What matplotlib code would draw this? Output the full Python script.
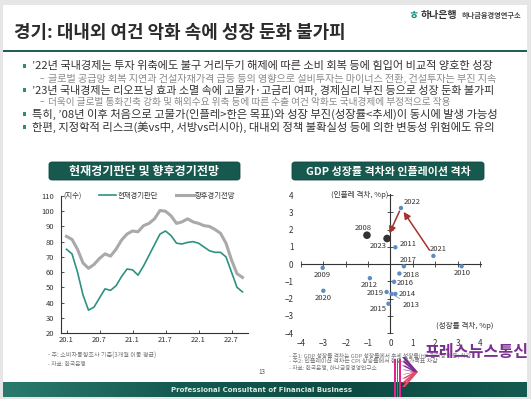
import matplotlib
matplotlib.use("Agg")
import matplotlib.pyplot as plt
from matplotlib.patches import Rectangle, FancyBboxPatch, Polygon
from matplotlib.colors import LinearSegmentedColormap
import numpy as np

plt.rcParams['font.family'] = ['Noto Sans CJK KR', 'DejaVu Sans']
plt.rcParams['axes.unicode_minus'] = True

W, H = 531, 399

# ---------------- data ----------------
months = ["20.1","20.2","20.3","20.4","20.5","20.6","20.7","20.8","20.9","20.10","20.11","20.12",
          "21.1","21.2","21.3","21.4","21.5","21.6","21.7","21.8","21.9","21.10","21.11","21.12",
          "22.1","22.2","22.3","22.4","22.5","22.6","22.7","22.8","22.9"]
current_csi = [75, 72, 60, 45, 35, 37, 43, 49, 48, 51, 57, 62,
               61.5, 58, 64, 71, 78, 85, 87, 84, 79, 78.5, 79.5, 80,
               79, 76.5, 74, 73, 73, 70, 60, 50, 47]
outlook_csi = [83.5, 81.5, 75, 66, 62.5, 65, 69, 72, 70.5, 75, 81, 85,
               87, 86.5, 90.5, 92, 95, 100.5, 100, 97, 92, 93, 95, 93,
               92, 90.5, 90, 88, 85.5, 79, 68, 59, 56.5]
left_xtick_labels = ["20.1", "20.7", "21.1", "21.7", "22.1", "22.7"]
left_yticks = [20, 30, 40, 50, 60, 70, 80, 90, 100, 110]

years = ["2008", "2009", "2010", "2011", "2012", "2013", "2014", "2015",
         "2016", "2017", "2018", "2019", "2020", "2021", "2022", "2023"]
growth_gap = [-1.05, -3.03, 3.18, 0.22, -0.92, 0.05, 0.22, -0.09,
              0.16, 0.6, 0.4, -0.17, -3.0, 1.92, 0.47, -0.15]
inflation_gap = [1.67, -0.22, -0.13, 0.97, -0.82, -1.73, -1.73, -2.3,
                 -1.03, -0.13, -0.55, -1.62, -1.55, 0.47, 3.25, 1.48]
highlight_years = ["2008", "2023"]
right_ticks = [-4, -3, -2, -1, 0, 1, 2, 3, 4]

# ---------------- figure ----------------
fig = plt.figure(figsize=(W / 100, H / 100), dpi=100)
fig.patch.set_facecolor("#e6e6e6")

def fx(x):
    return x / W

def fy(y):
    return 1 - y / H

# slide background
fig.patches.append(Rectangle((fx(3), fy(396)), fx(524), (396 - 5) / H,
                             transform=fig.transFigure, facecolor="white",
                             edgecolor="none", zorder=-5))
# header rule
fig.patches.append(Rectangle((fx(3), fy(52)), fx(524), 2.2 / H,
                             transform=fig.transFigure, facecolor="#1f5f57",
                             edgecolor="none", zorder=1))

fitted = []  # (text, target width px)

def ftext(x, y, s, target=None, **kw):
    t = fig.text(fx(x), fy(y), s, **kw)
    if target is not None:
        fitted.append((t, target))
    return t

# title
ftext(14, 33, "경기: 대내외 여건 악화 속에 성장 둔화 불가피", target=331,
      fontsize=14, fontweight="bold", color="#2b2b2b", va="center", ha="left")

# logo
ftext(421, 15, "하나은행", target=37, fontsize=7, fontweight="bold",
      color="#333333", va="center", ha="left")
ftext(462, 15.5, "하나금융경영연구소", target=60, fontsize=4.5, fontweight="bold",
      color="#444444", va="center", ha="left")
ftext(413, 15, "ㅎ", fontsize=8, fontweight="bold", color="#0d8c7c",
      va="center", ha="center")

# bullets
teal = "#2f8a7c"
bullets = [
    (66, "’22년 국내경제는 투자 위축에도 불구 거리두기 해제에 따른 소비 회복 등에 힘입어 비교적 양호한 성장", 465, True),
    (78.5, "글로벌 공급망 회복 지연과 건설자재가격 급등 등의 영향으로 설비투자는 마이너스 전환, 건설투자는 부진 지속", 449, False),
    (90, "’23년 국내경제는 리오프닝 효과 소멸 속에 고물가·고금리 여파, 경제심리 부진 등으로 성장 둔화 불가피", 466, True),
    (102, "더욱이 글로벌 통화긴축 강화 및 해외수요 위축 등에 따른 수출 여건 악화도 국내경제에 부정적으로 작용", 402, False),
    (114, "특히, ’08년 이후 처음으로 고물가(인플레>한은 목표)와 성장 부진(성장률<추세)이 동시에 발생 가능성", 470, True),
    (127, "한편, 지정학적 리스크(美vs中, 서방vs러시아), 대내외 정책 불확실성 등에 의한 변동성 위험에도 유의", 467, True),
]
for y, s, wdt, main in bullets:
    if main:
        fig.patches.append(Rectangle((fx(22.5), fy(y + 2)), 3.5 / W, 3.5 / H,
                                     transform=fig.transFigure,
                                     facecolor=teal, edgecolor="none"))
        ftext(32, y, s, target=wdt, fontsize=7, color="#333333",
              va="center", ha="left")
    else:
        ftext(40, y, "–", fontsize=6, color="#888888", va="center", ha="left")
        ftext(48, y, s, target=wdt, fontsize=6, color="#8a8a8a",
              va="center", ha="left")

# chart title boxes
def title_box(x0, x1, y0, y1, s, target):
    box = FancyBboxPatch((fx(x0), fy(y1)), fx(x1 - x0), (y1 - y0) / H,
                         boxstyle="round,pad=0,rounding_size=0.006",
                         transform=fig.transFigure, facecolor="#17594f",
                         edgecolor="#0f463e", linewidth=0.6, zorder=2)
    fig.patches.append(box)
    ftext((x0 + x1) / 2, (y0 + y1) / 2 + 0.5, s, target=target, fontsize=8,
          fontweight="bold", color="white", ha="center", va="center", zorder=3)

title_box(49, 240, 162, 180, "현재경기판단 및 향후경기전망", 150)
title_box(292, 484, 162, 180, "GDP 성장률 격차와 인플레이션 격차", 164)

# ---------------- left chart ----------------
axL = fig.add_axes([fx(61), fy(333), fx(187), 137 / H])
axL.set_zorder(2)
axL.set_facecolor("none")
x = np.arange(len(months))
axL.plot(x, outlook_csi, color="#a9a9a9", lw=2.2, label="향후경기전망", zorder=2)
axL.plot(x, current_csi, color="#2d9182", lw=1.2, label="현재경기판단", zorder=3)
axL.set_xlim(-1.0, 33.0)
axL.set_ylim(20, 110)
axL.set_yticks(left_yticks)
axL.set_yticklabels([str(v) for v in left_yticks])
axL.set_xticks([months.index(m) for m in left_xtick_labels])
axL.set_xticklabels(left_xtick_labels)
for s in ["top", "right"]:
    axL.spines[s].set_visible(False)
for s in ["left", "bottom"]:
    axL.spines[s].set_color("#333333")
    axL.spines[s].set_linewidth(0.8)
axL.tick_params(axis="y", direction="in", length=2, width=0.6, labelsize=5.5,
                pad=5, colors="#333333")
axL.tick_params(axis="x", direction="in", length=2, width=0.6, labelsize=5.5,
                pad=2, colors="#333333")
axL.text(0.012, 1.0, "(지수)", transform=axL.transAxes, fontsize=5.3,
         color="#333333", va="center", ha="left")
h, l = axL.get_legend_handles_labels()
leg = axL.legend(h[::-1], l[::-1], loc="center left", bbox_to_anchor=(0.185, 1.0),
                 ncol=2, frameon=False, fontsize=5.3, handlelength=2.4,
                 handletextpad=0.2, columnspacing=2.4, borderaxespad=0)
for t in leg.get_texts():
    t.set_color("#333333")

# ---------------- right chart ----------------
rect = [fx(297.6), fy(333.9), 185.7 / W, (333.9 - 193.3) / H]
axR = fig.add_axes(rect)
axR.set_zorder(2)
axR.set_facecolor("none")
axR.set_xlim(-4.15, 4.15)
axR.set_ylim(-4.05, 4.1)
axR.set_xticks(right_ticks)
axR.set_yticks(right_ticks)
axR.set_xticklabels([str(v).replace("-", "−") for v in right_ticks])
axR.set_yticklabels([str(v).replace("-", "−") for v in right_ticks])
for s in axR.spines.values():
    s.set_visible(False)
axR.tick_params(length=0, labelsize=5.8, colors="#333333")
axR.tick_params(axis="y", pad=3)
axR.tick_params(axis="x", pad=4)

# zero-crossing axes overlay
axZ = fig.add_axes(rect, sharex=axR, sharey=axR)
axZ.set_zorder(3)
axZ.set_facecolor("none")
axZ.spines["left"].set_position(("data", 0))
axZ.spines["bottom"].set_position(("data", 0))
axZ.spines["top"].set_visible(False)
axZ.spines["right"].set_visible(False)
for s in ["left", "bottom"]:
    axZ.spines[s].set_color("#333333")
    axZ.spines[s].set_linewidth(0.8)
    axZ.spines[s].set_bounds(-4, 4.05)
axZ.tick_params(direction="inout", length=4, width=0.6, colors="#333333",
                labelleft=False, labelbottom=False)

cols = ["#333333" if yv in highlight_years else "#5b8cc4" for yv in years]
sizes = [30 if yv in highlight_years else 10 for yv in years]
axZ.scatter(growth_gap, inflation_gap, c=cols, s=sizes, zorder=5, linewidths=0)

# label offsets in pixels (dx, dy), alignment
lbl = {
    "2008": (-4, 7, "center"), "2009": (0, -7, "center"), "2010": (1, -7, "center"),
    "2011": (4, 3, "left"), "2012": (-1, -7, "center"), "2013": (11, -11, "left"),
    "2014": (3, 0, "left"), "2015": (-2, -5, "right"), "2016": (3, -1.5, "left"),
    "2017": (4, 6, "center"), "2018": (3, -1.5, "left"), "2019": (-3, -1, "right"),
    "2020": (0, -7.5, "center"), "2021": (5, 6.5, "center"), "2022": (3, 6, "left"),
    "2023": (-1, -8, "right"),
}
for yr, gx, iy in zip(years, growth_gap, inflation_gap):
    dx, dy, ha = lbl[yr]
    if yr == "2013":
        axZ.annotate(yr, (gx, iy), xytext=(dx / 1.389, dy / 1.389),
                     textcoords="offset points", fontsize=5.5, color="#333333",
                     ha=ha, va="center",
                     arrowprops=dict(arrowstyle="-", color="#5b8cc4", lw=0.5,
                                     shrinkA=0, shrinkB=1.5))
    else:
        axZ.annotate(yr, (gx, iy), xytext=(dx / 1.389, dy / 1.389),
                     textcoords="offset points", fontsize=5.5, color="#333333",
                     ha=ha, va="center")

def idx(y):
    return years.index(y)

for a, b, sa, sb in [("2021", "2022", 5, 3.4), ("2022", "2023", 2.5, 4)]:
    axZ.annotate("", xy=(growth_gap[idx(b)], inflation_gap[idx(b)]),
                 xytext=(growth_gap[idx(a)], inflation_gap[idx(a)]),
                 arrowprops=dict(arrowstyle="-|>,head_length=0.4,head_width=0.2",
                                 color="#a3332b", lw=1.1, shrinkA=sa, shrinkB=sb),
                 zorder=4)

axZ.text(-0.1, 4.0, "(인플레 격차, %p)", fontsize=5.5, color="#333333",
         ha="right", va="center")
axZ.text(3.3, -3.6, "(성장률 격차, %p)", fontsize=5.5, color="#333333",
         ha="center", va="center")

# ---------------- notes ----------------
note_col = "#777777"
ftext(48, 356, "- 주: 소비자동향조사 기준(3개월 이동 평균)", target=108, fontsize=4.3,
      color=note_col, va="center", ha="left")
ftext(48, 364, "- 자료: 한국은행", target=38, fontsize=4.3, color=note_col,
      va="center", ha="left")
ftext(289, 355.5, "- 주1: GDP 성장률 격차는 GDP 성장률에서 추세 성장률(HP 필터링 이용) 차감",
      target=184, fontsize=4.3, color=note_col, va="center", ha="left")
ftext(289, 361.5, "- 주2: 인플레이션 격차는 CPI 상승률에서 한은 물가목표 차감",
      target=150, fontsize=4.3, color=note_col, va="center", ha="left")
ftext(289, 367.5, "- 자료: 한국은행, 하나금융경영연구소", target=88, fontsize=4.3,
      color=note_col, va="center", ha="left")
ftext(262, 372, "13", fontsize=4.5, color="#555555", va="center", ha="center")

# ---------------- footer ----------------
grad = np.linspace(0, 1, 256).reshape(1, -1)
cm = LinearSegmentedColormap.from_list("ft", ["#2a7a6e", "#155a50", "#0d4a42", "#155a50"])
axF = fig.add_axes([fx(3), fy(397), fx(524), 15 / H])
axF.set_zorder(1)
axF.imshow(grad, aspect="auto", cmap=cm, extent=[0, 1, 0, 1])
axF.axis("off")
ftext(262, 389.5, "Professional Consultant of Financial Business", target=182,
      fontsize=5, fontweight="bold", color="#d8e8e4", va="center", ha="center",
      family="DejaVu Sans", zorder=5)

# ---------------- watermark ----------------
for i in range(3):
    fig.patches.append(Rectangle((fx(394 + i * 2.6), fy(397)), 1.6 / W, 38 / H,
                                 transform=fig.transFigure,
                                 facecolor="#e0258f", edgecolor="none", zorder=6))
for i in range(4):
    yy = 357 + i * 4.2
    pts = [(fx(402), fy(yy)), (fx(405), fy(yy)), (fx(418 - i * 0.5), fy(372)),
           (fx(415 - i * 0.5), fy(372))]
    fig.patches.append(Polygon(pts, closed=True, transform=fig.transFigure,
                               facecolor="#7a2f8f", edgecolor="none", zorder=6))
    yb = 387 - i * 4.2
    pts = [(fx(402), fy(yb)), (fx(405), fy(yb)), (fx(418 - i * 0.5), fy(372)),
           (fx(415 - i * 0.5), fy(372))]
    fig.patches.append(Polygon(pts, closed=True, transform=fig.transFigure,
                               facecolor="#e44a6c", edgecolor="none", zorder=6))
ftext(424, 352, "프레스뉴스통신", target=104, fontsize=12, fontweight="bold",
      color="#7a2f8f", va="center", ha="left", zorder=7)

# ---------------- fit text widths ----------------
fig.canvas.draw()
r = fig.canvas.get_renderer()
for t, target in fitted:
    w = t.get_window_extent(r).width
    if w > 0:
        t.set_fontsize(t.get_fontsize() * target / w)

fig.savefig("out.png", dpi=100, facecolor=fig.get_facecolor())
